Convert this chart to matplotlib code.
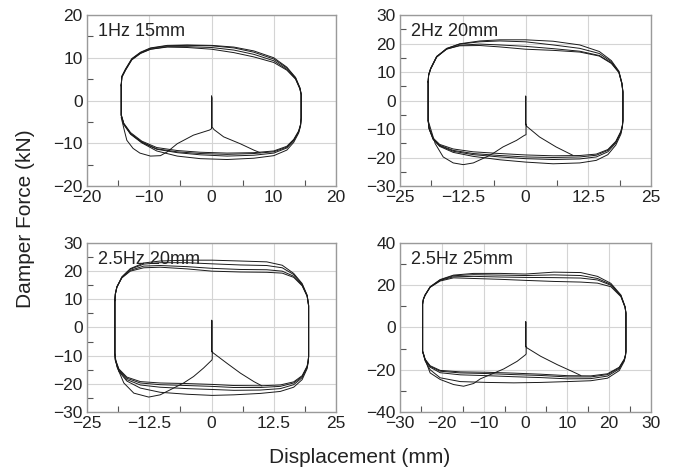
import matplotlib
matplotlib.use("Agg")
import matplotlib.pyplot as plt
from matplotlib.ticker import MultipleLocator, FixedLocator, FuncFormatter

plt.rcParams['font.family'] = ['Liberation Sans', 'DejaVu Sans']

# ---- 1 Hz, 15 mm ----
tl_top_x = [-14.5, -14.4, -13.8, -12.8, -11.4, -9.8, -7.1, -3.9, 0.0, 3.6, 6.8, 10.0, 12.1, 13.5, 14.2, 14.4]
tl_top_y = [
    [3.6, 5.6, 7.3, 9.7, 11.2, 12.2, 12.8, 12.9, 12.8, 12.3, 11.3, 9.7, 7.6, 5.3, 2.9, 1.5],
    [3.4, 5.4, 7.1, 9.5, 11.0, 12.0, 12.6, 12.6, 12.4, 11.8, 10.8, 9.3, 7.3, 5.1, 2.8, 1.4],
    [3.5, 5.5, 7.2, 9.6, 11.1, 12.0, 12.5, 12.4, 12.0, 11.2, 10.2, 8.9, 7.1, 5.0, 2.7, 1.3],
    [3.7, 5.7, 7.4, 9.8, 11.3, 12.3, 12.9, 13.0, 12.9, 12.5, 11.6, 10.0, 7.8, 5.4, 3.0, 1.6],
]
tl_bot_x = [14.4, 14.3, 14.0, 13.2, 12.1, 10.0, 6.8, 2.5, -1.8, -5.5, -8.8, -11.2, -13.0, -14.1, -14.5]
tl_bot_y = [
    [-4.2, -5.8, -7.3, -9.3, -10.9, -12.0, -12.4, -12.6, -12.4, -12.0, -11.3, -9.7, -7.7, -5.4, -3.4],
    [-4.0, -5.6, -7.1, -9.1, -10.7, -11.8, -12.2, -12.3, -12.1, -11.7, -11.0, -9.5, -7.5, -5.3, -3.3],
    [-4.1, -5.7, -7.3, -9.4, -11.1, -12.3, -12.8, -13.0, -12.7, -12.2, -11.4, -9.8, -7.8, -5.5, -3.5],
    [-4.3, -6.0, -7.6, -9.8, -11.6, -12.9, -13.5, -13.8, -13.6, -13.0, -11.8, -9.9, -7.9, -5.6, -3.6],
]
tl_start_x = [7.8, 6.8, 4.6, 1.95, 0.4, 0.1, 0.1, 0.0, 0.0, -0.3, -2.9, -5.5, -7.1, -8.2, -9.8, -11.5, -12.6, -13.6, -14.0, -14.5]
tl_start_y = [-12.2, -11.6, -10.1, -8.5, -6.8, -6.2, 0.6, 1.1, -6.6, -6.9, -8.1, -10.1, -12.0, -12.9, -13.0, -12.3, -11.2, -9.3, -7.0, -4.0]

# ---- 2 Hz, 20 mm ----
tr_top_x = [-19.4, -19.3, -18.9, -17.7, -15.7, -13.1, -9.1, -5.1, 0.0, 5.5, 10.8, 14.7, 17.1, 18.6, 19.2, 19.4]
tr_top_y = [
    [6.6, 9.0, 11.2, 15.4, 18.3, 19.8, 20.6, 20.9, 20.6, 19.5, 18.3, 16.5, 13.6, 10.1, 6.0, 3.0],
    [6.4, 8.8, 11.0, 15.2, 18.2, 19.9, 20.9, 21.3, 21.3, 20.8, 19.5, 17.2, 14.0, 10.3, 6.2, 3.2],
    [6.5, 8.9, 11.1, 15.3, 18.0, 19.4, 19.8, 19.5, 19.0, 18.2, 17.3, 15.8, 13.2, 9.9, 5.9, 2.9],
    [6.7, 9.1, 11.3, 15.5, 18.1, 19.2, 19.3, 18.8, 18.0, 17.6, 17.0, 15.6, 13.0, 9.8, 5.8, 2.8],
]
tr_bot_x = [19.4, 19.3, 19.0, 18.0, 16.4, 14.1, 10.8, 5.5, 0.0, -5.1, -10.4, -14.4, -17.1, -18.4, -19.2, -19.4]
tr_bot_y = [
    [-6.9, -8.8, -11.0, -14.5, -17.5, -19.2, -19.8, -20.0, -19.8, -19.3, -18.6, -17.5, -15.7, -13.4, -9.8, -6.9],
    [-6.7, -8.6, -10.8, -14.3, -17.2, -18.8, -19.3, -19.4, -19.1, -18.6, -18.0, -17.0, -15.4, -13.2, -9.6, -6.7],
    [-7.0, -9.0, -11.3, -14.9, -18.0, -19.8, -20.5, -20.7, -20.4, -19.8, -19.0, -17.8, -15.9, -13.5, -9.9, -7.0],
    [-7.2, -9.3, -11.8, -15.6, -19.0, -21.0, -21.9, -22.2, -21.6, -20.8, -19.6, -18.2, -16.1, -13.7, -10.0, -7.1],
]
tr_start_x = [9.4, 6.1, 2.8, 0.2, 0.0, 0.0, 0.1, 0.1, -0.2, -1.8, -4.5, -6.5, -7.8, -10.4, -12.4, -14.4, -16.4, -18.0, -19.4]
tr_start_y = [-19.2, -16.3, -12.8, -9.0, -8.0, 1.6, 1.4, -12.0, -12.2, -14.0, -16.3, -18.6, -19.8, -21.9, -22.5, -21.9, -19.8, -15.1, -7.0]

# ---- 2.5 Hz, 20 mm ----
bl_top_x = [-19.4, -19.3, -19.0, -18.0, -16.3, -13.6, -10.3, -4.9, 0.1, 5.8, 11.1, 14.2, 16.5, 18.2, 19.2, 19.5]
bl_top_y = [
    [9.7, 12.0, 14.4, 18.0, 20.9, 22.9, 23.6, 23.9, 23.9, 23.6, 23.3, 22.1, 19.2, 15.6, 11.5, 8.0],
    [9.5, 11.8, 14.2, 17.8, 20.7, 22.5, 23.0, 23.0, 22.6, 22.2, 22.0, 21.2, 18.8, 15.3, 11.3, 7.8],
    [9.6, 11.9, 14.3, 17.7, 20.3, 21.8, 22.0, 21.6, 21.0, 20.6, 20.5, 20.0, 18.2, 15.0, 11.2, 7.7],
    [9.8, 12.1, 14.5, 17.6, 20.0, 21.2, 21.4, 20.8, 20.0, 19.7, 19.6, 19.3, 17.8, 14.8, 11.1, 7.6],
]
bl_bot_x = [19.5, 19.4, 19.2, 18.2, 16.5, 13.8, 9.8, 4.5, 0.1, -4.9, -10.3, -14.3, -17.0, -18.6, -19.3, -19.4]
bl_bot_y = [
    [-10.3, -12.0, -13.9, -17.4, -19.7, -20.9, -21.3, -21.3, -20.9, -20.6, -20.3, -19.7, -18.0, -15.0, -11.5, -9.1],
    [-10.1, -11.8, -13.7, -17.1, -19.3, -20.4, -20.7, -20.6, -20.2, -19.9, -19.7, -19.2, -17.6, -14.7, -11.3, -8.9],
    [-10.4, -12.2, -14.2, -17.8, -20.3, -21.7, -22.2, -22.3, -22.0, -21.7, -21.2, -20.4, -18.5, -15.3, -11.6, -9.2],
    [-10.5, -12.4, -14.6, -18.5, -21.2, -22.7, -23.4, -23.9, -24.1, -23.7, -23.0, -21.5, -19.0, -15.6, -11.8, -9.3],
]
bl_start_x = [10.1, 8.5, 5.8, 3.1, 0.4, 0.0, 0.0, 0.15, 0.15, 0.1, -1.6, -3.6, -5.6, -7.6, -10.3, -12.6, -15.6, -17.6, -19.0, -19.4]
bl_start_y = [-20.7, -19.2, -16.2, -12.7, -9.1, -8.5, 2.6, 2.4, -11.0, -11.5, -14.4, -17.4, -19.7, -21.5, -23.9, -24.7, -23.3, -19.7, -13.9, -9.5]

# ---- 2.5 Hz, 25 mm ----
br_top_x = [-24.6, -24.4, -24.0, -22.8, -20.4, -17.2, -12.4, -6.0, 0.0, 6.8, 13.2, 17.2, 20.4, 22.8, 23.8, 24.0]
br_top_y = [
    [11.4, 13.5, 15.4, 19.3, 22.7, 24.8, 25.6, 25.6, 25.3, 26.2, 26.0, 24.2, 20.9, 15.4, 9.9, 7.0],
    [11.2, 13.3, 15.2, 19.1, 22.5, 24.5, 25.0, 24.8, 24.6, 24.9, 24.6, 23.2, 20.4, 15.1, 9.7, 6.8],
    [11.3, 13.4, 15.3, 19.2, 22.3, 24.0, 24.2, 23.9, 23.7, 23.6, 23.4, 22.5, 20.0, 14.9, 9.6, 6.7],
    [11.5, 13.6, 15.5, 19.0, 22.0, 23.5, 23.2, 22.8, 22.3, 21.8, 21.5, 21.0, 19.3, 14.6, 9.5, 6.6],
]
br_bot_x = [24.0, 23.9, 23.6, 22.4, 19.6, 15.6, 10.0, 3.6, -2.8, -9.2, -15.6, -20.4, -22.8, -24.0, -24.4, -24.6]
br_bot_y = [
    [-11.3, -13.0, -15.2, -19.1, -22.3, -23.4, -23.4, -22.7, -22.3, -21.8, -21.5, -20.7, -18.4, -15.2, -12.5, -11.3],
    [-11.1, -12.8, -15.0, -18.8, -21.9, -22.9, -22.8, -22.1, -21.6, -21.2, -21.0, -20.3, -18.1, -15.0, -12.3, -11.1],
    [-11.4, -13.2, -15.5, -19.6, -23.0, -24.2, -24.3, -23.7, -23.3, -22.8, -22.4, -21.4, -18.8, -15.4, -12.6, -11.4],
    [-11.5, -13.5, -16.0, -20.4, -24.0, -25.2, -25.6, -26.0, -26.2, -26.0, -25.6, -23.8, -20.0, -15.8, -12.8, -11.5],
]
br_start_x = [13.2, 11.6, 7.6, 3.6, 0.4, 0.0, 0.0, 0.15, 0.15, 0.0, -2.0, -5.2, -8.4, -10.8, -12.4, -14.8, -17.2, -20.4, -22.8, -24.0, -24.6]
br_start_y = [-22.7, -21.2, -17.6, -13.6, -9.7, -9.0, 2.8, 2.6, -12.5, -12.9, -16.0, -19.6, -22.3, -24.3, -26.5, -27.8, -27.0, -24.6, -21.5, -15.2, -11.5]

titles = ['1Hz 15mm', '2Hz 20mm', '2.5Hz 20mm', '2.5Hz 25mm']
x_lims = [(-20, 20), (-25, 25), (-25, 25), (-30, 30)]
y_lims = [(-20, 20), (-30, 30), (-30, 30), (-40, 40)]
x_major = [10, 12.5, 12.5, 10]
y_major = [10, 10, 10, 20]

line_c = '#1a1a1a'
spine_c = '#9a9a9a'
grid_c = '#d4d4d4'
text_c = '#222222'
ps = 12.5


def tick_fmt(v, pos):
    if abs(v - round(v)) < 1e-6:
        s = '%d' % abs(round(v))
    else:
        s = ('%.1f' % abs(v))
    if v < -1e-9:
        s = '\u2212' + s
    return s


fig = plt.figure(figsize=(6.78, 4.72), dpi=100)
boxes = [[0.1283, 0.6059, 0.3673, 0.3623],
         [0.5900, 0.6059, 0.3702, 0.3623],
         [0.1283, 0.1271, 0.3673, 0.3581],
         [0.5900, 0.1271, 0.3702, 0.3581]]

panels = [(tl_top_x, tl_top_y, tl_bot_x, tl_bot_y, tl_start_x, tl_start_y),
          (tr_top_x, tr_top_y, tr_bot_x, tr_bot_y, tr_start_x, tr_start_y),
          (bl_top_x, bl_top_y, bl_bot_x, bl_bot_y, bl_start_x, bl_start_y),
          (br_top_x, br_top_y, br_bot_x, br_bot_y, br_start_x, br_start_y)]

for i, (top_x, top_y, bot_x, bot_y, st_x, st_y) in enumerate(panels):
    ax = fig.add_axes(boxes[i])
    # one closed curve per cycle: upper branch, right edge, lower branch, left edge
    for k in range(len(top_y)):
        xs = top_x + bot_x + [top_x[0]]
        ys = top_y[k] + bot_y[k] + [top_y[k][0]]
        ax.plot(xs, ys, color=line_c, lw=0.7, solid_joinstyle='round')
    ax.plot(st_x, st_y, color=line_c, lw=0.7, solid_joinstyle='round')

    ax.set_xlim(x_lims[i])
    ax.set_ylim(y_lims[i])
    ax.xaxis.set_major_locator(MultipleLocator(x_major[i]))
    ax.yaxis.set_major_locator(MultipleLocator(y_major[i]))
    ax.xaxis.set_minor_locator(MultipleLocator(x_major[i] / 2.0))
    ax.yaxis.set_minor_locator(MultipleLocator(y_major[i] / 2.0))
    if i == 3:
        ax.xaxis.set_minor_locator(FixedLocator([-25, -15, -5, 5, 15, 25]))
    ax.xaxis.set_major_formatter(FuncFormatter(tick_fmt))
    ax.yaxis.set_major_formatter(FuncFormatter(tick_fmt))
    ax.grid(True, which='major', color=grid_c, lw=0.8)
    ax.set_axisbelow(True)
    for sp in ax.spines.values():
        sp.set_color(spine_c)
        sp.set_linewidth(1.0)
    ax.tick_params(which='major', length=0, pad=3, labelsize=ps, labelcolor=text_c)
    ax.tick_params(which='minor', direction='in', length=4, width=0.8, color='#555555')
    ax.text(0.045, 0.955, titles[i], transform=ax.transAxes, ha='left', va='top',
            fontsize=13, color=text_c)

fig.text(0.038, 0.536, 'Damper Force (kN)', rotation=90, ha='center', va='center',
         fontsize=15, color=text_c)
fig.text(0.531, 0.030, 'Displacement (mm)', ha='center', va='center',
         fontsize=15, color=text_c)

fig.savefig('out.png', dpi=100)
